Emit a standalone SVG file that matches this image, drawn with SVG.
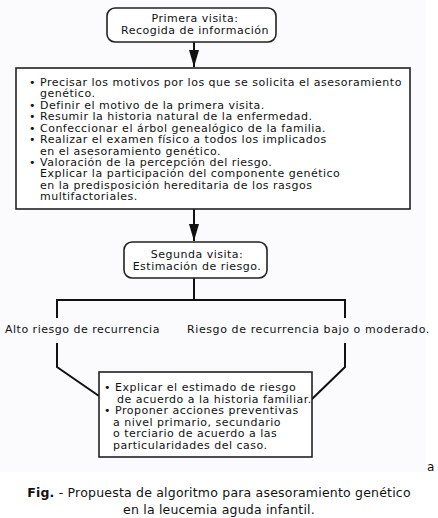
<svg xmlns="http://www.w3.org/2000/svg" width="438" height="518" viewBox="0 0 438 518">
<defs>
<style>
text{font-family:"DejaVu Sans","Verdana",sans-serif;font-size:11px;fill:#111;letter-spacing:0.5px}
.box{fill:#fff;stroke:#222;stroke-width:1.6}
.ln{fill:none;stroke:#111;stroke-width:2}
.c{text-anchor:middle}
.cap{font-size:12.5px;letter-spacing:0.2px}
</style>
<marker id="ah" markerWidth="18" markerHeight="10" refX="17" refY="5" orient="auto" markerUnits="userSpaceOnUse" viewBox="0 0 18 10">
<path d="M0,0 L17,5 L0,10 Z" fill="#111"/>
</marker>
</defs>
<rect x="0" y="0" width="426" height="472" fill="#fbfbfd"/>
<g id="connectors">
<line class="ln" x1="194" y1="42" x2="194" y2="67" marker-end="url(#ah)"/>
<line class="ln" x1="194" y1="209" x2="194" y2="241" marker-end="url(#ah)"/>
<polyline class="ln" points="194,278 194,300"/>
<polyline class="ln" points="57,318 57,300 345,300 345,318"/>
<polyline class="ln" points="57,343 57,367 99,396"/>
<polyline class="ln" points="345,343 345,367 311,400"/>
</g>
<g id="n1">
<rect class="box" x="107" y="8" width="169" height="34" rx="8"/>
<text class="c" x="195" y="22">Primera visita:</text>
<text class="c" x="195" y="34">Recogida de información</text>
</g>
<g id="n2">
<rect class="box" x="16" y="68" width="394" height="141"/>
<text x="29" y="86">• Precisar los motivos por los que se solicita el asesoramiento</text>
<text x="40" y="97.4">genético.</text>
<text x="29" y="108.9">• Definir el motivo de la primera visita.</text>
<text x="29" y="120.3">• Resumir la historia natural de la enfermedad.</text>
<text x="29" y="131.7">• Confeccionar el árbol genealógico de la familia.</text>
<text x="29" y="143.1">• Realizar el examen físico a todos los implicados</text>
<text x="40" y="154.6">en el asesoramiento genético.</text>
<text x="29" y="166">• Valoración de la percepción del riesgo.</text>
<text x="40" y="177.4">Explicar la participación del componente genético</text>
<text x="40" y="188.9">en la predisposición hereditaria de los rasgos</text>
<text x="40" y="200.3">multifactoriales.</text>
</g>
<g id="n3">
<rect class="box" x="124" y="242" width="143" height="36" rx="8"/>
<text class="c" x="197" y="258">Segunda visita:</text>
<text class="c" x="197" y="270">Estimación de riesgo.</text>
</g>
<g id="l1"><text x="5" y="333">Alto riesgo de recurrencia</text></g>
<g id="l2"><text x="187" y="333" style="letter-spacing:0.6px">Riesgo de recurrencia bajo o moderado.</text></g>
<g id="n4" style="letter-spacing:0.6px">
<rect class="box" x="99" y="372" width="213" height="85"/>
<text x="104" y="391">• Explicar el estimado de riesgo</text>
<text x="117" y="402.5">de acuerdo a la historia familiar.</text>
<text x="104" y="414">• Proponer acciones preventivas</text>
<text x="113" y="425.5">a nivel primario, secundario</text>
<text x="113" y="437">o terciario de acuerdo a las</text>
<text x="113" y="448.5">particularidades del caso.</text>
</g>
<text x="427" y="471" style="font-size:12px">a</text>
<text class="c cap" x="219" y="497"><tspan font-weight="bold">Fig.</tspan> - Propuesta de algoritmo para asesoramiento genético</text>
<text class="c cap" x="219" y="514">en la leucemia aguda infantil.</text>
</svg>
